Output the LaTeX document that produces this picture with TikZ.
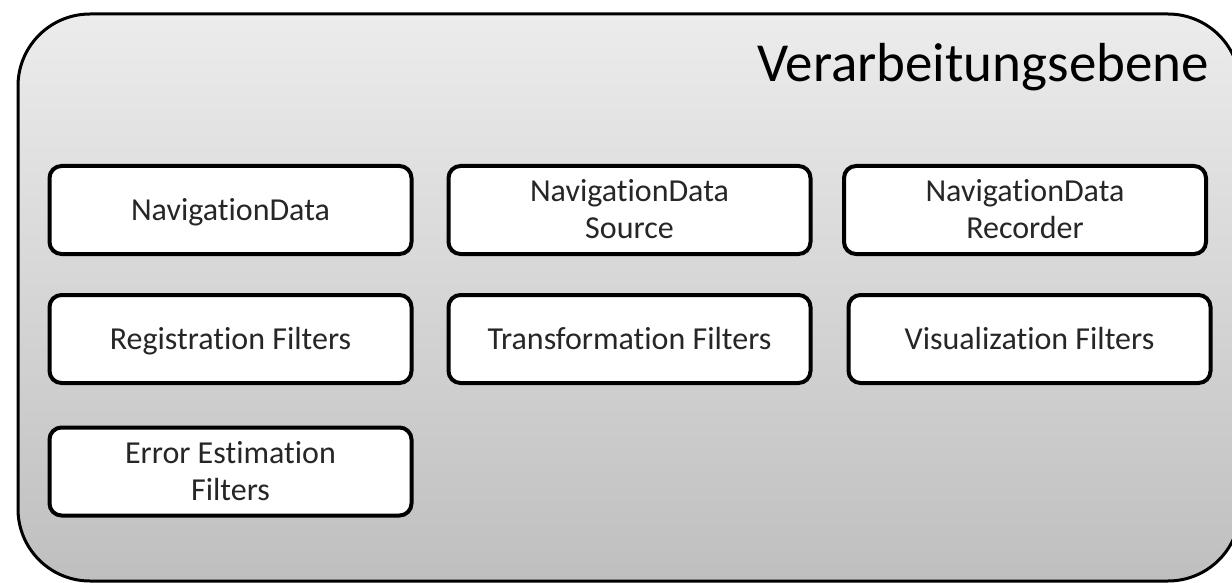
\documentclass[tikz,border=0pt]{standalone}
\usepackage{fontspec}
\setmainfont[Ligatures={NoCommon}]{Carlito}
\definecolor{paneltop}{RGB}{236,236,236}
\definecolor{panelbottom}{RGB}{191,191,191}
\definecolor{boxtext}{RGB}{38,38,38}
\tikzset{
  panel/.style={draw=black, line width=3pt, rounded corners=72pt,
    top color=paneltop, bottom color=panelbottom},
  modbox/.style={draw=black, fill=white, line width=4pt, rounded corners=12pt,
    minimum width=362pt, minimum height=88pt, inner sep=0pt, align=center,
    text=boxtext, font=\fontsize{32}{37}\selectfont,
    text height=20.6pt, text depth=0pt},
  twoline/.style={text height=57.6pt},
  paneltitle/.style={anchor=base west, inner sep=0pt, text=black,
    font=\fontsize{55}{60}\selectfont}
}
\begin{document}
\begin{tikzpicture}[x=1pt, y=-1pt]
  \useasboundingbox (0,0) rectangle (1232,583);
  % processing layer panel
  \path[panel] (18,14) rectangle (1240,581);
  \node[paneltitle] (title) at (757,82) {Verarbeitungsebene};
  % module boxes
  \node[modbox] (navdata)   at (230.5,210)   {NavigationData};
  \node[modbox, twoline] (navsource) at (629.5,210) {NavigationData\\Source};
  \node[modbox, twoline] (navrec)    at (1025,210)  {NavigationData\\Recorder};
  \node[modbox] (regfilt)   at (230.5,339)   {Registration Filters};
  \node[modbox] (transfilt) at (629.5,339)   {Transformation Filters};
  \node[modbox] (visfilt)   at (1029.5,339)  {Visualization Filters};
  \node[modbox, twoline] (errfilt) at (230.5,471.5) {Error Estimation\\Filters};
\end{tikzpicture}
\end{document}
